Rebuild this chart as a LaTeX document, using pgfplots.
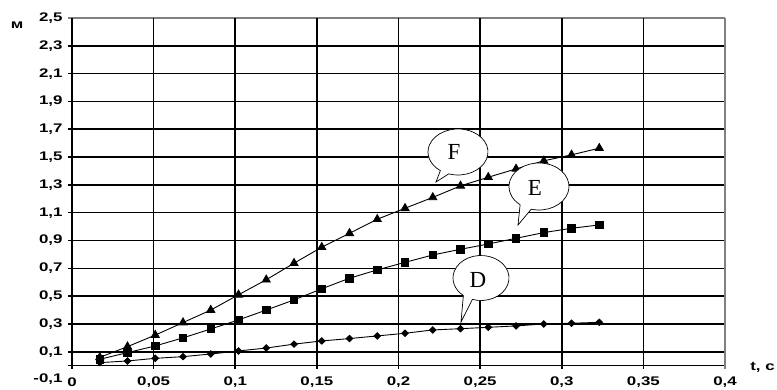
\documentclass[border=0pt]{standalone}
\usepackage{fontspec}
\setmainfont{Liberation Sans}
\newfontfamily\tickfont{Liberation Sans}[FakeStretch=1.35]
\newfontfamily\serifL{Liberation Serif}
\usepackage{pgfplots}
\pgfplotsset{compat=1.18}
\pgfplotstableread{
t F E D
0.017 0.060 0.046 0.022
0.034 0.137 0.094 0.034
0.051 0.220 0.142 0.053
0.068 0.310 0.200 0.065
0.085 0.400 0.264 0.084
0.102 0.510 0.329 0.106
0.119 0.618 0.400 0.127
0.136 0.737 0.473 0.155
0.153 0.852 0.553 0.178
0.170 0.952 0.629 0.195
0.187 1.053 0.689 0.214
0.204 1.132 0.743 0.233
0.221 1.210 0.796 0.257
0.238 1.293 0.837 0.266
0.255 1.355 0.875 0.276
0.272 1.415 0.916 0.286
0.289 1.473 0.957 0.300
0.306 1.516 0.988 0.305
0.323 1.564 1.012 0.312
}\datatable
\begin{document}
\begin{tikzpicture}
% grid (drawn first, below the data)
\begin{scope}[x=1632.5pt,y=139.08pt,yshift=13.908pt]
  \foreach \v in {0,0.1,0.3,0.5,0.7,0.9,1.1,1.3,1.5,1.7,1.9,2.1,2.3}
    \draw[black,line width=1.6pt] (-0.0026,\v) -- (0.4,\v);
  \draw[black!50,line width=1.6pt] (-0.0026,2.5) -- (0.4,2.5);
  \foreach \u in {0,0.05,0.1,0.15,0.2,0.25,0.3,0.35}
    \draw[black,line width=1.6pt] (\u,-0.022) -- (\u,2.5);
  \draw[black!50,line width=1.6pt] (0.4,-0.022) -- (0.4,2.5);
\end{scope}
\begin{axis}[
  scale only axis, width=653pt, height=361.6pt,
  xmin=0, xmax=0.4, ymin=-0.1, ymax=2.5,
  axis line style={draw=none}, tick style={draw=none},
  xtick={0,0.05,0.1,0.15,0.2,0.25,0.3,0.35,0.4},
  xticklabels={0,{0,05},{0,1},{0,15},{0,2},{0,25},{0,3},{0,35},{0,4}},
  ytick={-0.1,0.1,0.3,0.5,0.7,0.9,1.1,1.3,1.5,1.7,1.9,2.1,2.3,2.5},
  yticklabels={{-0,1},{0,1},{0,3},{0,5},{0,7},{0,9},{1,1},{1,3},{1,5},{1,7},{1,9},{2,1},{2,3},{2,5}},
  tick label style={font=\fontsize{12.5}{14}\selectfont\tickfont\bfseries},
  xticklabel style={anchor=center, yshift=-3pt},
  yticklabel style={anchor=east, xshift=-6pt},
  clip=false,
]
\addplot[black, line width=0.9pt, mark=triangle*, mark size=4.6pt] table[x=t,y=F] {\datatable};
\addplot[black, line width=0.9pt, mark=square*, mark size=3.8pt] table[x=t,y=E] {\datatable};
\addplot[black, line width=0.9pt, mark=diamond*, mark size=3.2pt, mark options={xscale=1.35}] table[x=t,y=D] {\datatable};
\end{axis}
% axis unit labels
\node[font=\fontsize{12.5}{14}\selectfont\tickfont\bfseries] at (-55pt,354.6pt) {м};
\node[font=\fontsize{12.5}{14}\selectfont\tickfont\bfseries] at (690.5pt,12.6pt) {t, с};
% callouts
\begin{scope}[shift={(386pt,227.6pt)}]
  \filldraw[fill=white,draw=black,line width=0.7pt] (252:30pt and 23pt) arc[start angle=252,end angle=594,x radius=30pt,y radius=23pt] -- (-22pt,-30pt) -- cycle;
  \node[font=\serifL\fontsize{23}{23}\selectfont] at (-4pt,0pt) {F};
\end{scope}
\begin{scope}[shift={(467pt,193.1pt)}]
  \filldraw[fill=white,draw=black,line width=0.7pt] (255:30pt and 23.5pt) arc[start angle=255,end angle=591,x radius=30pt,y radius=23.5pt] -- (-21pt,-38.5pt) -- cycle;
  \node[font=\serifL\fontsize{23}{23}\selectfont] at (-4pt,-1pt) {E};
\end{scope}
\begin{scope}[shift={(409pt,101.6pt)}]
  \filldraw[fill=white,draw=black,line width=0.7pt] (252:28pt and 22.5pt) arc[start angle=252,end angle=591,x radius=28pt,y radius=22.5pt] -- (-20pt,-44pt) -- cycle;
  \node[font=\serifL\fontsize{23}{23}\selectfont] at (-3pt,-2pt) {D};
\end{scope}
\pgfresetboundingbox
\path (-72pt,-10.4pt) rectangle (705pt,379.6pt);
\end{tikzpicture}
\end{document}
